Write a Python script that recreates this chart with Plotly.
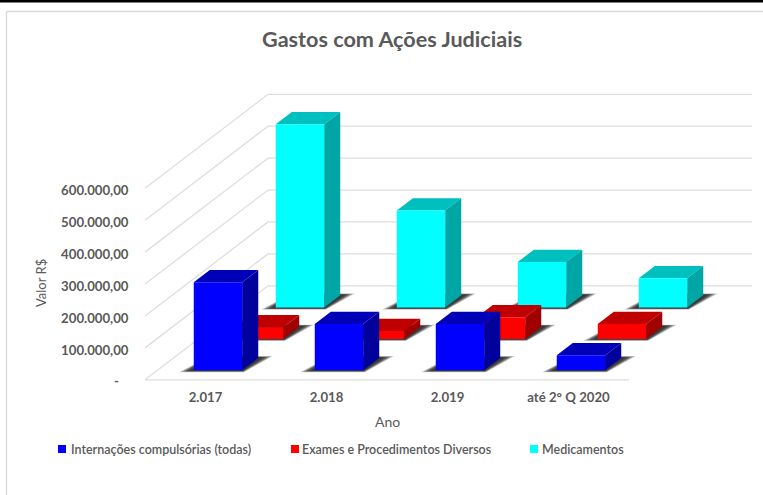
import plotly.graph_objects as go

# ---- data ----
categories = ["2.017", "2.018", "2.019", "até 2° Q 2020"]
series_names = ["Internações compulsórias (todas)", "Exames e Procedimentos Diversos", "Medicamentos"]
internacoes = [275700, 145000, 145000, 47000]
exames = [36600, 25000, 68000, 47000]
medicamentos = [574600, 304000, 143000, 92000]
value_ticks = [0, 100000, 200000, 300000, 400000, 500000, 600000]
value_labels = ["-\u00a0\u00a0\u00a0", "100.000,00", "200.000,00", "300.000,00", "400.000,00", "500.000,00", "600.000,00"]

# ---- styling ----
W, H = 763, 495
TEXT = "#595959"
GRID = "#dedede"
FONT = "Lato"
FACE = ["#0000ff", "#ff0000", "#00ffff"]
TOP = ["#0000b8", "#c00000", "#00bfbf"]
SIDE = ["#00009c", "#a00000", "#00a6a6"]

# ---- oblique projection of the 3D box into the 2D axes ----
PX0, PY0 = 145.0, 379.8          # origin of the floor, front left
CAT_PX = 121.0                   # pixels per category
VAL_PX = 191.5 / 600000          # pixels per value unit
DEPTH_X, DEPTH_Y = 123.0, 94.0   # pixels for the full depth
N_SERIES = 3
BAR_W = 0.4                      # share of a category
BAR_D = 0.392                    # share of a series slot


def proj(cat, depth, value):
    """cat in category units, depth in 0..1 of the box, value in data units."""
    return cat + depth * DEPTH_X / CAT_PX, value + depth * DEPTH_Y / VAL_PX


def poly(points, fill, line=None, lw=0):
    xs, ys = zip(*[proj(*p) for p in points])
    return go.Scatter(
        x=list(xs) + [xs[0]], y=list(ys) + [ys[0]], mode="lines", fill="toself",
        fillcolor=fill, line=dict(color=line or "rgba(0,0,0,0)", width=lw),
        hoverinfo="skip", showlegend=False,
    )


def grid_line(points):
    xs, ys = zip(*[proj(*p) for p in points])
    return go.Scatter(x=xs, y=ys, mode="lines", line=dict(color=GRID, width=1.3),
                      hoverinfo="skip", showlegend=False)


fig = go.Figure()

# walls: gridlines and floor front edge
n = len(categories)
for v in value_ticks:
    fig.add_trace(grid_line([(0, 0, v), (0, 1, v), (n, 1, v)]))
fig.add_trace(grid_line([(0, 0, 0), (n, 0, 0)]))

all_values = [internacoes, exames, medicamentos]
# back row first, so nearer bars hide farther ones
for s in [2, 1, 0]:
    d0 = (s + 0.5 - BAR_D / 2) / N_SERIES
    d1 = (s + 0.5 + BAR_D / 2) / N_SERIES
    for c, v in enumerate(all_values[s]):
        x0 = c + 0.5 - BAR_W / 2
        x1 = c + 0.5 + BAR_W / 2
        # soft floor shadow, stacked translucent layers
        for k, alpha in [(1.0, 0.22), (0.85, 0.28), (0.7, 0.32), (0.55, 0.35), (0.35, 0.35)]:
            fig.add_trace(poly([
                (x0 - 0.10 * k, d0 - 0.02 * k, 0),
                (x1 + 0.035 * k, d0 - 0.02 * k, 0),
                (x1 + 0.10 * k, d1 + 0.02 * k, 0),
                (x0 - 0.02 * k, d1 + 0.02 * k, 0),
            ], f"rgba(20,20,20,{alpha})"))
        # box faces
        fig.add_trace(poly([(x0, d0, v), (x1, d0, v), (x1, d1, v), (x0, d1, v)], TOP[s]))
        fig.add_trace(poly([(x1, d0, 0), (x1, d1, 0), (x1, d1, v), (x1, d0, v)], SIDE[s]))
        fig.add_trace(poly([(x0, d0, 0), (x1, d0, 0), (x1, d0, v), (x0, d0, v)], FACE[s]))

# legend drawn to the reference's tight key spacing
legend_text_x = [68.5, 300, 539.5]
legend_key_x = [58, 291, 530]
LEG_Y = 449


def paper(px, py):
    return px / W, 1 - py / H


annotations = []
shapes = []
for i, name in enumerate(series_names):
    tx, ty = paper(legend_text_x[i], LEG_Y)
    annotations.append(dict(text=name, x=tx, y=ty, xref="paper", yref="paper", xanchor="left",
                            yanchor="middle", showarrow=False,
                            font=dict(family=FONT, size=12.5, color=TEXT, weight=600)))
    sx0, sy0 = paper(legend_key_x[i], LEG_Y - 4)
    sx1, sy1 = paper(legend_key_x[i] + 8, LEG_Y + 4)
    shapes.append(dict(type="rect", xref="paper", yref="paper", x0=sx0, x1=sx1, y0=sy1, y1=sy0,
                       fillcolor=FACE[i], line=dict(width=0)))

for text, px, py, size, weight, angle in [
    ("Gastos com Ações Judiciais", 391.5, 39, 21.6, 700, 0),
    ("Ano", 387, 421, 14, 400, 0),
    ("Valor R$", 41, 283, 13, 400, -90),
]:
    ax, ay = paper(px, py)
    annotations.append(dict(text=text, x=ax, y=ay, xref="paper", yref="paper", xanchor="center",
                            yanchor="middle", showarrow=False, textangle=angle,
                            font=dict(family=FONT, size=size, color=TEXT, weight=weight)))

# page chrome of the screenshot: black rule and the chart frame
shapes += [
    dict(type="rect", xref="paper", yref="paper", x0=0, x1=1, y0=1 - 2.5 / H, y1=1,
         fillcolor="#000000", line=dict(width=0)),
    dict(type="line", xref="paper", yref="paper", x0=6.5 / W, x1=1, y0=1 - 11.5 / H, y1=1 - 11.5 / H,
         line=dict(color="#d9d9d9", width=1.3)),
    dict(type="line", xref="paper", yref="paper", x0=6.5 / W, x1=6.5 / W, y0=0, y1=1 - 11.5 / H,
         line=dict(color="#d9d9d9", width=1.3)),
]

tick_font = dict(family=FONT, size=13.2, color=TEXT, weight=700)
fig.update_layout(
    width=W, height=H, margin=dict(l=0, r=0, t=0, b=0, pad=0, autoexpand=False),
    paper_bgcolor="white", plot_bgcolor="white", showlegend=False,
    annotations=annotations, shapes=shapes,
    xaxis=dict(
        range=[-PX0 / CAT_PX, (W - PX0) / CAT_PX], domain=[0, 1], anchor="free",
        position=(H - PY0) / H, tickmode="array", tickvals=[i + 0.5 for i in range(n)],
        ticktext=categories, tickfont=tick_font, showgrid=False, zeroline=False,
        showline=False, ticks="", ticklabelstandoff=8, fixedrange=True,
    ),
    yaxis=dict(
        range=[(PY0 - H) / VAL_PX, PY0 / VAL_PX], domain=[0, 1], anchor="free",
        position=128.5 / W, tickmode="array", tickvals=value_ticks, ticktext=value_labels,
        tickfont=tick_font, showgrid=False, zeroline=False, showline=False, ticks="",
        ticklabelshift=2, fixedrange=True,
    ),
)
fig.write_html("out.html", config={"displayModeBar": False},
               post_script="document.body.style.margin='0';document.body.style.overflow='hidden';")
